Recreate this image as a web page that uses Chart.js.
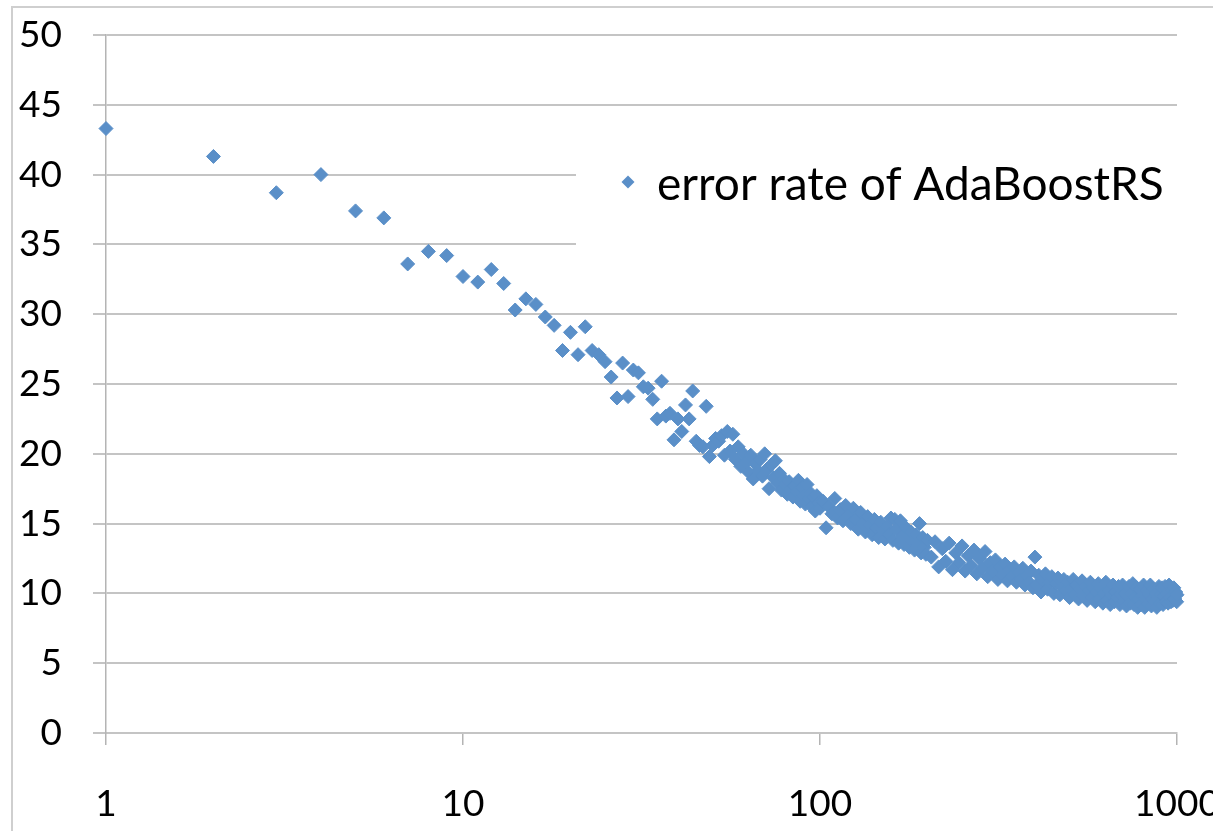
<!DOCTYPE html>
<html>
<head>
<meta charset="utf-8">
<script src="https://cdn.jsdelivr.net/npm/chart.js@4.4.1/dist/chart.umd.min.js"></script>
<style>
  html, body { margin: 0; padding: 0; background: #fff; overflow: hidden; }
  #frame {
    position: absolute; left: 11px; top: 6px; width: 1300px; height: 900px;
    border-left: 2px solid #cfcfcf; border-top: 2px solid #cfcfcf;
  }
  #chart { position: absolute; left: 0; top: 0; }
</style>
</head>
<body>
<div id="frame"></div>
<canvas id="chart" width="1213" height="831"></canvas>
<script>
const seriesLabel = "error rate of AdaBoostRS";
const xTickValues = [1, 10, 100, 1000];
const yMin = 0;
const yMax = 50;
const yStep = 5;

// number of boosting iterations (x) and the error rate (y)
const iterations = [
  1, 2, 3, 4, 5, 6, 7, 8, 9, 10,
  11, 12, 13, 14, 15, 16, 17, 18, 19, 20,
  21, 22, 23, 24, 25, 26, 27, 28, 29, 30,
  31, 32, 33, 34, 35, 36, 37, 38, 39, 40,
  41, 42, 43, 44, 45, 46, 47, 48, 49, 50,
  51, 52, 53, 54, 55,
  56, 57, 58, 59, 60,
  61, 62, 63, 64, 65, 66, 67, 68, 69, 70,
  71, 72, 73, 74, 75, 76, 77, 78, 79, 80,
  81, 82, 83, 84, 85, 86, 87, 88, 89, 90,
  91, 92, 93, 94, 95, 96, 97, 98, 99, 100,
  102, 104, 106, 108, 110, 112, 114, 116, 118, 120,
  122, 124, 126, 128, 130, 132, 134, 136, 138, 140,
  142, 144, 146, 148, 150, 152, 154, 156, 158, 160,
  162, 164, 166, 168, 170, 172, 174, 176, 178, 180,
  182, 184, 186, 188, 190, 192, 194, 196, 198, 200,
  205, 210, 215, 220, 225, 230, 235, 240, 245, 250,
  255, 260, 265, 270, 275, 280, 285, 290, 295, 300,
  305, 310, 315, 320, 325, 330, 335, 340, 345, 350,
  355, 360, 365, 370, 375, 380, 385, 390, 395, 400,
  404, 410, 416, 422, 428, 434, 440, 446, 452, 458,
  464, 470, 476, 482, 488, 494, 500, 506, 512, 518,
  524, 530, 536, 542, 548, 554, 560, 566, 572, 578,
  584, 590, 596, 602, 608, 614, 620, 626, 632, 638,
  644, 650, 656, 662, 668, 674, 680, 686, 692, 698,
  704, 710, 716, 722, 728, 734, 740, 746, 752, 758,
  764, 770, 776, 782, 788, 794, 800, 806, 812, 818,
  824, 830, 836, 842, 848, 854, 860, 866, 872, 878,
  884, 890, 896, 902, 908, 914, 920, 926, 932, 938,
  944, 950, 956, 962, 968, 974, 980, 986, 992, 998,
  1000
];

const errorRate = [
  43.3, 41.3, 38.7, 40.0, 37.4, 36.9, 33.6, 34.5, 34.2, 32.7,
  32.3, 33.2, 32.2, 30.3, 31.1, 30.7, 29.8, 29.2, 27.4, 28.7,
  27.1, 29.1, 27.4, 27.1, 26.6, 25.5, 24.0, 26.5, 24.1, 26.0,
  25.8, 24.8, 24.7, 23.9, 22.5, 25.2, 22.7, 22.9, 21.0, 22.5,
  21.6, 23.5, 22.5, 24.5, 20.9, 20.6, 20.5, 23.4, 19.8, 20.6,
  21.1, 20.9, 21.3, 19.9, 21.6,
  20.2, 21.4, 19.6, 20.5, 19.1,
  20.0, 19.4, 18.7, 19.9, 18.2, 19.3, 18.8, 19.6, 18.4, 20.0,
  18.9, 17.5, 19.2, 18.3, 19.5, 17.9, 18.6, 17.4, 18.2, 17.8,
  17.1, 18.0, 17.5, 16.9, 17.7, 17.3, 18.1, 16.6, 17.6, 17.0,
  16.4, 17.8, 16.8, 17.2, 16.2, 16.9, 15.9, 17.0, 16.5, 16.1,
  16.6, 14.7, 16.2, 15.7, 16.8, 15.4, 16.0, 15.2, 16.3, 15.6,
  15.0, 16.1, 15.3, 14.6, 15.8, 15.0, 14.4, 15.5, 14.9, 14.2,
  15.3, 14.7, 14.0, 15.1, 14.5, 13.9, 14.8, 14.2, 15.4, 13.8,
  15.3, 14.6, 13.6, 15.2, 14.1, 13.5, 14.7, 13.9, 13.3, 14.4,
  13.7, 13.1, 14.2, 13.5, 15.0, 12.9, 14.0, 13.3, 12.8, 13.8,
  12.6, 13.7, 11.9, 13.2, 12.3, 13.6, 11.7, 12.9, 12.2, 13.4,
  11.6, 12.7, 12.0, 13.1, 11.4, 12.5, 11.8, 13.0, 11.2, 12.2,
  11.6, 12.4, 11.0, 11.9, 11.3, 12.1, 10.9, 11.7, 11.2, 11.9,
  10.8, 11.5, 11.0, 11.8, 10.6, 11.3, 10.8, 11.6, 10.4, 12.6,
  10.6, 11.3, 10.1, 10.9, 11.4, 10.3, 10.8, 11.2, 10.0, 10.7,
  11.1, 9.9, 10.5, 11.0, 10.2, 10.8, 9.7, 10.4, 11.0, 9.9,
  10.6, 9.6, 10.3, 10.9, 9.8, 10.5, 9.5, 10.2, 10.8, 9.7,
  10.4, 9.4, 10.1, 10.7, 9.6, 10.3, 9.3, 10.0, 10.8, 9.5,
  10.2, 9.2, 9.9, 10.6, 9.4, 10.1, 9.7, 10.5, 9.2, 9.9,
  10.6, 9.4, 10.0, 9.1, 9.8, 10.5, 9.3, 10.0, 10.7, 9.2,
  9.7, 10.4, 9.0, 9.6, 10.3, 9.2, 9.8, 10.6, 9.0, 9.7,
  10.2, 9.3, 9.9, 10.6, 9.1, 9.6, 10.3, 9.4, 10.0, 9.0,
  9.7, 10.5, 9.3, 9.9, 10.4, 9.2, 9.8, 10.5, 9.4, 10.0,
  9.3, 10.6, 9.7, 9.4, 10.2, 9.5, 10.4, 9.6, 10.1, 9.4,
  9.9
];

const dotColor = "#5a8fc8";
const gridColor = "#c4c4c4";
const axisColor = "#b4b4b4";
const tickFont = { family: "Lato", size: 37 };

// Excel style legend: white box over the grid, diamond + label
const legendBox = {
  id: "legendBox",
  afterDraw(chart) {
    const ctx = chart.ctx;
    const label = chart.data.datasets[0].label;
    ctx.save();
    ctx.fillStyle = "#fff";
    ctx.fillRect(576, 132, chart.width - 576, 150);

    const mx = 628, my = 182, r = 6.5;
    ctx.beginPath();
    ctx.moveTo(mx, my - r);
    ctx.lineTo(mx + r, my);
    ctx.lineTo(mx, my + r);
    ctx.lineTo(mx - r, my);
    ctx.closePath();
    ctx.fillStyle = dotColor;
    ctx.fill();

    ctx.font = "46px Lato";
    ctx.fillStyle = "#000";
    ctx.textBaseline = "alphabetic";
    ctx.textAlign = "left";
    ctx.fillText(label, 657, 200);
    ctx.restore();
  }
};

function drawChart() {
  const ctx = document.getElementById("chart").getContext("2d");
  const points = iterations.map((x, i) => ({ x: x, y: errorRate[i] }));

  new Chart(ctx, {
    type: "scatter",
    data: {
      datasets: [
        {
          label: seriesLabel,
          data: points,
          pointStyle: "rectRot",
          pointRadius: 7,
          pointHoverRadius: 7,
          backgroundColor: dotColor,
          borderColor: dotColor,
          borderWidth: 1,
          clip: false,
        },
      ],
    },
    options: {
      responsive: false,
      animation: false,
      devicePixelRatio: 1,
      events: [],
      layout: { padding: { top: 35, right: 36, bottom: 0, left: 0 } },
      plugins: {
        legend: { display: false },
        tooltip: { enabled: false },
      },
      scales: {
        x: {
          type: "logarithmic",
          min: xTickValues[0],
          max: xTickValues[xTickValues.length - 1],
          afterBuildTicks: (scale) => {
            scale.ticks = xTickValues.map((v) => ({ value: v }));
          },
          afterFit: (scale) => {
            scale.height = 98;
            scale.paddingLeft = 0;
            scale.paddingRight = 0;
          },
          grid: {
            drawOnChartArea: false,
            tickLength: 12,
            color: axisColor,
            lineWidth: 1.5,
          },
          border: { color: gridColor, width: 2 },
          ticks: {
            font: tickFont,
            color: "#000",
            padding: 37,
            maxRotation: 0,
            autoSkip: false,
            callback: (v) => String(v),
          },
        },
        y: {
          min: yMin,
          max: yMax,
          afterFit: (scale) => {
            scale.width = 106;
            scale.paddingTop = 0;
            scale.paddingBottom = 0;
          },
          grid: { color: gridColor, lineWidth: 2, tickLength: 13 },
          border: { color: axisColor, width: 1.5 },
          ticks: {
            stepSize: yStep,
            font: tickFont,
            color: "#000",
            padding: 31,
          },
        },
      },
    },
    plugins: [legendBox],
  });
}

Promise.all([
  document.fonts.load("37px Lato"),
  document.fonts.load("46px Lato"),
]).then(drawChart, drawChart);
</script>
</body>
</html>
